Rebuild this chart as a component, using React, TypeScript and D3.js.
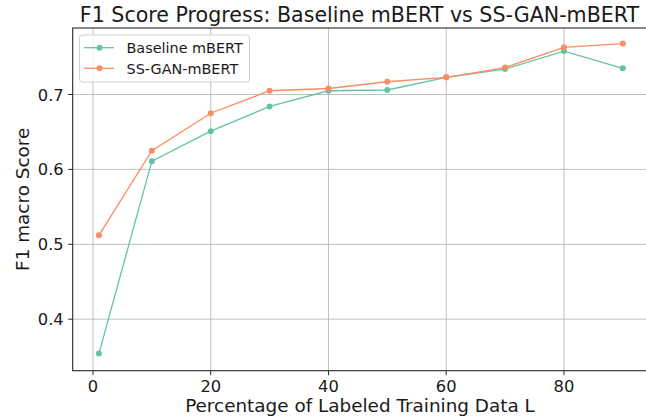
import React, { useEffect, useRef } from 'react'
import * as d3 from 'd3'

const labeled = [1, 10, 20, 30, 40, 50, 60, 70, 80, 90]
const baseline = [0.354, 0.611, 0.651, 0.684, 0.705, 0.706, 0.723, 0.734, 0.758, 0.735]
const ssgan = [0.512, 0.625, 0.675, 0.705, 0.708, 0.717, 0.723, 0.736, 0.763, 0.768]
const xTicks = [0, 20, 40, 60, 80]
const yTicks = [0.4, 0.5, 0.6, 0.7]
const seriesNames = ['Baseline mBERT', 'SS-GAN-mBERT']
const seriesColors = ['#66c2a5', '#fc8d62']

const W = 646, H = 419
const FONT = 'DejaVu Sans, sans-serif'

const App = () => {
  const ref = useRef<SVGSVGElement>(null)

  useEffect(() => {
    const svg = d3.select(ref.current)
    svg.selectAll('*').remove()

    const left = 72.7, right = 649, top = 28, bottom = 370.7
    const x = d3.scaleLinear().domain([-3.45, 94.45]).range([left, right])
    const y = d3.scaleLinear().domain([0.3312, 0.7888]).range([bottom, top])

    svg.append('rect').attr('width', W).attr('height', H).attr('fill', 'white')

    // grid
    const grid = svg.append('g').attr('stroke', '#b0b0b0').attr('stroke-width', 0.8)
    xTicks.forEach(t => {
      grid.append('line').attr('x1', x(t)).attr('x2', x(t)).attr('y1', top).attr('y2', bottom)
    })
    yTicks.forEach(t => {
      grid.append('line').attr('x1', left).attr('x2', right).attr('y1', y(t)).attr('y2', y(t))
    })

    // lines
    const all = [baseline, ssgan]
    all.forEach((vals, i) => {
      const line = d3.line<number>().x((d, j) => x(labeled[j])).y(d => y(d))
      svg.append('path')
        .datum(vals)
        .attr('d', line)
        .attr('fill', 'none')
        .attr('stroke', seriesColors[i])
        .attr('stroke-width', 1.3)
      svg.append('g').selectAll('circle')
        .data(vals)
        .enter()
        .append('circle')
        .attr('cx', (d, j) => x(labeled[j]))
        .attr('cy', d => y(d))
        .attr('r', 3)
        .attr('fill', seriesColors[i])
    })

    // spines
    const sp = svg.append('g').attr('stroke', '#262626').attr('stroke-width', 1.1).attr('fill', 'none')
    sp.append('rect').attr('x', left).attr('y', top).attr('width', right - left).attr('height', bottom - top)

    // ticks
    const tk = svg.append('g').attr('font-family', FONT).attr('font-size', 16.3).attr('fill', '#1a1a1a')
    xTicks.forEach(t => {
      tk.append('line').attr('x1', x(t)).attr('x2', x(t)).attr('y1', bottom).attr('y2', bottom + 4.5)
        .attr('stroke', '#262626').attr('stroke-width', 1)
      tk.append('text').attr('x', x(t)).attr('y', bottom + 21).attr('text-anchor', 'middle').text(t)
    })
    yTicks.forEach(t => {
      tk.append('line').attr('x1', left - 4.5).attr('x2', left).attr('y1', y(t)).attr('y2', y(t))
        .attr('stroke', '#262626').attr('stroke-width', 1)
      tk.append('text').attr('x', left - 9).attr('y', y(t) + 6).attr('text-anchor', 'end').text(d3.format('.1f')(t))
    })

    // labels
    svg.append('text').attr('x', 359.5).attr('y', 22).attr('text-anchor', 'middle')
      .attr('font-family', FONT).attr('font-size', 20.6).attr('fill', '#1a1a1a')
      .text('F1 Score Progress: Baseline mBERT vs SS-GAN-mBERT')
    svg.append('text').attr('x', 360).attr('y', 412).attr('text-anchor', 'middle')
      .attr('font-family', FONT).attr('font-size', 18.4).attr('fill', '#1a1a1a')
      .text('Percentage of Labeled Training Data L')
    svg.append('text').attr('transform', `translate(29,${(top + bottom) / 2}) rotate(-90)`)
      .attr('text-anchor', 'middle')
      .attr('font-family', FONT).attr('font-size', 18.4).attr('fill', '#1a1a1a')
      .text('F1 macro Score')

    // legend
    const lg = svg.append('g')
    lg.append('rect').attr('x', 79.5).attr('y', 35).attr('width', 170).attr('height', 47).attr('rx', 3)
      .attr('fill', 'white').attr('fill-opacity', 0.8).attr('stroke', '#d0d0d0').attr('stroke-width', 1)
    seriesNames.forEach((name, i) => {
      const cy = 47.7 + i * 20.6
      lg.append('line').attr('x1', 84).attr('x2', 114).attr('y1', cy).attr('y2', cy)
        .attr('stroke', seriesColors[i]).attr('stroke-width', 1.3)
      lg.append('circle').attr('cx', 99.5).attr('cy', cy).attr('r', 3).attr('fill', seriesColors[i])
      lg.append('text').attr('x', 126.5).attr('y', cy + 5.2).attr('font-family', FONT)
        .attr('font-size', 14.4).attr('fill', '#1a1a1a').text(name)
    })
  }, [])

  return <svg ref={ref} width={W} height={H} style={{ position: 'absolute', left: 0, top: 0 }} />
}

export default App
